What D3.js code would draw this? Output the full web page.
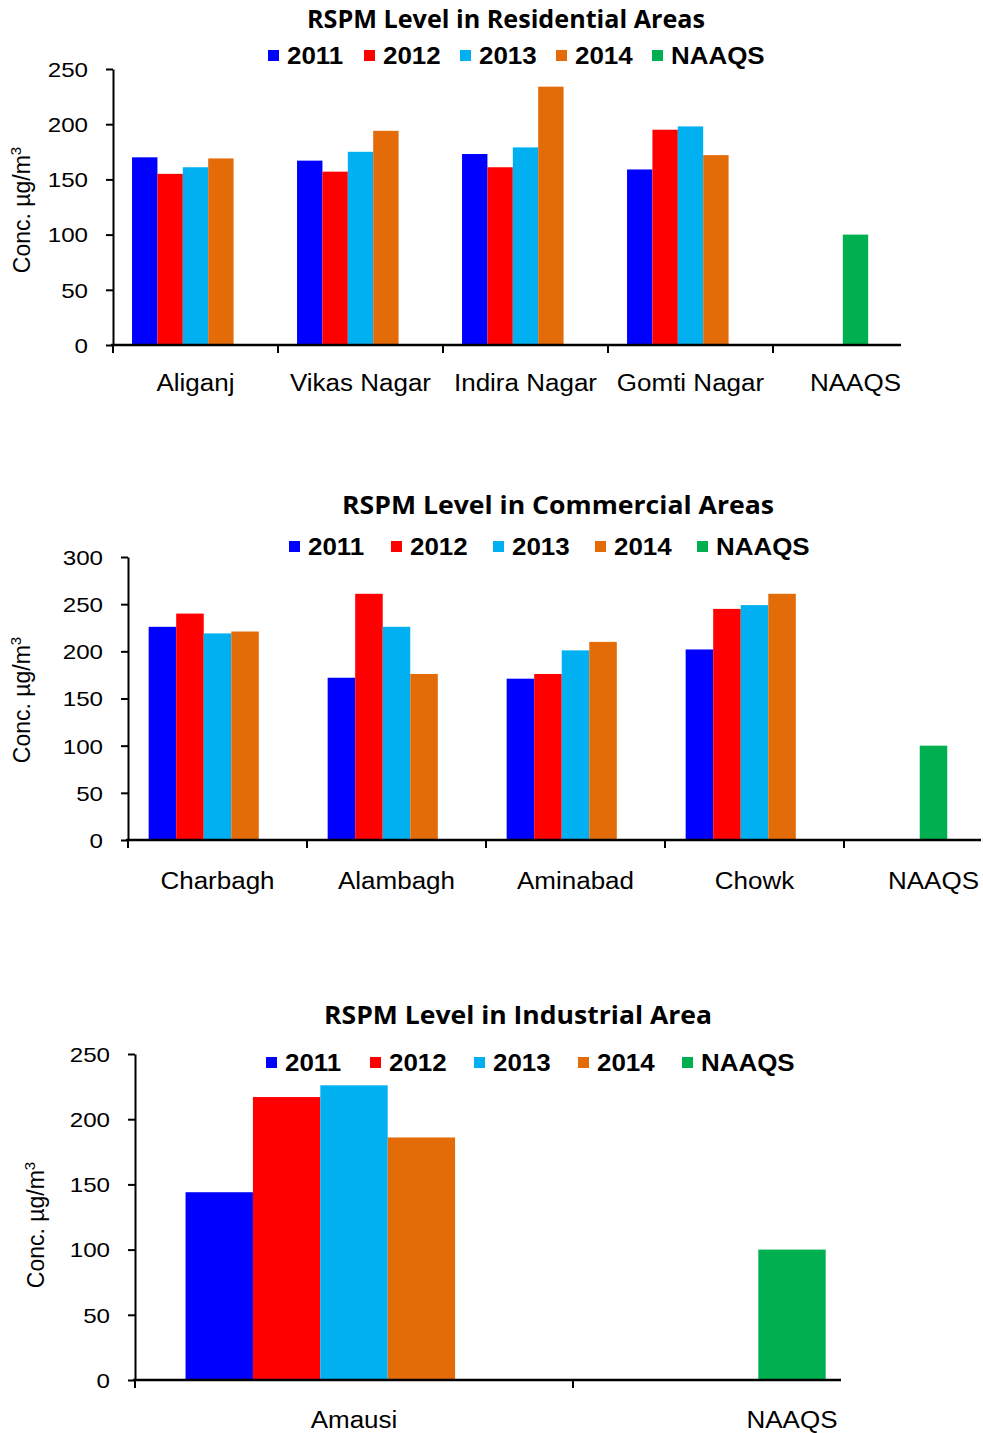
<!DOCTYPE html>
<head>
  <meta charset="utf-8">
  <script src="https://d3js.org/d3.v7.min.js"></script>
  <style>
  *{ margin:0; padding:0; }
  body{ background:#fff; }
  svg{ display:block; }
  text{ font-family:'Liberation Sans', Arial, sans-serif; fill:#000; }
  .title{ font-family:'Open Sans', sans-serif; font-weight:700; }
  .legend text{ font-weight:700; font-size:24px; }
  .tick text{ font-size:21px; }
  .cat{ font-size:23px; }
  </style>
</head>
<body>
<svg id="viz"></svg>
<script>
// series + colours
let years = ['2011','2012','2013','2014','NAAQS'];
let colors = ['#0000ff','#ff0000','#00b0f0','#e36c09','#00b050'];
let naaqs = 100;

// residential
let resAreas = ['Aliganj','Vikas Nagar','Indira Nagar','Gomti Nagar','NAAQS'];
let res2011 = [170,167,173,159];
let res2012 = [155,157,161,195];
let res2013 = [161,175,179,198];
let res2014 = [169,194,234,172];
let resTicks = [0,50,100,150,200,250];

// commercial
let comAreas = ['Charbagh','Alambagh','Aminabad','Chowk','NAAQS'];
let com2011 = [226,172,171,202];
let com2012 = [240,261,176,245];
let com2013 = [219,226,201,249];
let com2014 = [221,176,210,261];
let comTicks = [0,50,100,150,200,250,300];

// industrial
let indAreas = ['Amausi','NAAQS'];
let ind2011 = [144];
let ind2012 = [217];
let ind2013 = [226];
let ind2014 = [186];
let indTicks = [0,50,100,150,200,250];

let svg = d3.select('#viz').attr('width',983).attr('height',1433);

//the original text is a bit wider than Arial, stretch it
function widen(sel, f){
  sel.each(function(){
    let w = this.getComputedTextLength();
    d3.select(this).attr('textLength', w*f).attr('lengthAdjust','spacingAndGlyphs');
  });
}

//draw one panel
function panel(o){
  let g = svg.append('g');
  let series = [o.s1,o.s2,o.s3,o.s4];

  let x = d3.scaleBand().domain(o.cats).range([o.x0, o.x0 + o.step*o.cats.length]);
  let inner = d3.scaleBand().domain(d3.range(5)).range([0, x.bandwidth()]).paddingOuter(0.75);
  let y = d3.scaleLinear().domain([0, d3.max(o.ticks)]).range([o.base, o.top]);

  //title
  g.append('text').attr('class','title')
    .attr('x',o.tx).attr('y',o.ty)
    .attr('text-anchor','middle')
    .attr('font-size',o.tsize)
    .attr('textLength',o.tlen).attr('lengthAdjust','spacingAndGlyphs')
    .text(o.title);

  //legend
  let lg = g.append('g').attr('class','legend');
  years.forEach((yr,i) => {
    let lx = o.lx + i*o.lstep;
    lg.append('rect').attr('x',lx).attr('y',o.ly-14).attr('width',11).attr('height',11).attr('fill',colors[i]);
    lg.append('text').attr('x',lx+19).attr('y',o.ly).text(yr);
  });
  widen(lg.selectAll('text'), 1.08);

  //bars for the years
  o.cats.slice(0,-1).forEach((c,ci) => {
    series.forEach((s,si) => {
      g.append('rect')
        .attr('x', x(c) + inner(si))
        .attr('y', y(s[ci]))
        .attr('width', inner.bandwidth())
        .attr('height', y(0) - y(s[ci]))
        .attr('fill', colors[si]);
    });
  });
  //NAAQS bar sits in the middle slot
  let nc = o.cats[o.cats.length-1];
  g.append('rect')
    .attr('x', x(nc) + inner(2))
    .attr('y', y(naaqs))
    .attr('width', inner.bandwidth())
    .attr('height', y(0) - y(naaqs))
    .attr('fill', colors[4]);

  //y axis
  let ya = g.append('g').attr('transform',`translate(${o.x0},0)`)
    .call(d3.axisLeft(y).tickValues(o.ticks).tickSize(7).tickPadding(18).tickSizeOuter(0));
  ya.select('.domain').attr('stroke','#000').attr('stroke-width',2);
  ya.selectAll('.tick line').attr('stroke','#000').attr('stroke-width',2);
  ya.selectAll('.tick text').attr('dy','0.35em').attr('font-size',22);
  widen(ya.selectAll('.tick text'), 1.15);

  //x axis line and ticks at category edges
  g.append('line').attr('x1',o.x0-2).attr('x2',o.xend).attr('y1',o.base).attr('y2',o.base)
    .attr('stroke','#000').attr('stroke-width',2.5);
  o.cats.forEach(c => {
    g.append('line').attr('x1',x(c)).attr('x2',x(c)).attr('y1',o.base).attr('y2',o.base+8)
      .attr('stroke','#000').attr('stroke-width',2);
  });
  let cl = g.selectAll('text.cat').data(o.cats).enter().append('text')
    .attr('class','cat')
    .attr('x', d => x(d) + x.bandwidth()/2)
    .attr('y', o.base + o.cy)
    .attr('text-anchor','middle')
    .text(d => d);
  widen(cl, 1.13);

  //y label
  let yl = g.append('text')
    .attr('transform',`translate(${o.yx},${o.yy}) rotate(-90)`)
    .attr('text-anchor','middle')
    .attr('font-size',23);
  yl.append('tspan').text('Conc. µg/m');
  yl.append('tspan').attr('font-size',15).attr('dy',-9).text('3');
}

panel({cats:resAreas, s1:res2011, s2:res2012, s3:res2013, s4:res2014, ticks:resTicks,
  x0:113, step:165, xend:901, base:345, top:69, cy:46,
  title:'RSPM Level in Residential Areas', tx:506, ty:28, tsize:25, tlen:398,
  lx:268, lstep:96, ly:64, yx:30, yy:210});

panel({cats:comAreas, s1:com2011, s2:com2012, s3:com2013, s4:com2014, ticks:comTicks,
  x0:128, step:179, xend:981, base:840, top:557, cy:49,
  title:'RSPM Level in Commercial Areas', tx:558, ty:514, tsize:25, tlen:432,
  lx:289, lstep:102, ly:555, yx:30, yy:700});

panel({cats:indAreas, s1:ind2011, s2:ind2012, s3:ind2013, s4:ind2014, ticks:indTicks,
  x0:135, step:438, xend:841, base:1380, top:1054, cy:48,
  title:'RSPM Level in Industrial Area', tx:518, ty:1024, tsize:25, tlen:388,
  lx:266, lstep:104, ly:1071, yx:44, yy:1225});
</script>
</body>
